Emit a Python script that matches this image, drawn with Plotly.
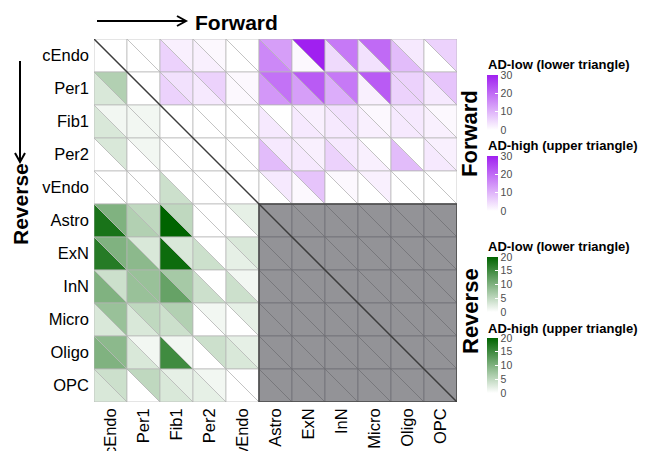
import plotly.graph_objects as go
from plotly.colors import sample_colorscale

cell_types = ["cEndo", "Per1", "Fib1", "Per2", "vEndo",
              "Astro", "ExN", "InN", "Micro", "Oligo", "OPC"]
n_vascular = 5
forward_max = 30
reverse_max = 20
forward_ticks = [0, 10, 20, 30]
reverse_ticks = [0, 5, 10, 15, 20]

# AD-low values (lower-left triangle of each cell); None = not tested (grey block)
ad_low = [
    [0, 0, 6, 2, 0, 16, 1, 5, 4, 9, 0],
    [3, 0, 6, 3, 1, 14, 13, 11, 2, 6, 3],
    [3, 1, 0, 0, 0, 3, 3, 3, 2, 3, 2],
    [0, 0, 0, 0, 0, 9, 3, 6, 2, 9, 3],
    [0, 0, 4, 0, 0, 0, 1, 0, 0, 0, 0],
    [18, 6, 20, 0, 0, None, None, None, None, None, None],
    [17, 9, 19, 4, 2, None, None, None, None, None, None],
    [10, 8, 12, 4, 4, None, None, None, None, None, None],
    [3, 3, 4, 0, 0, None, None, None, None, None, None],
    [10, 3, 15, 0, 3, None, None, None, None, None, None],
    [3, 0, 3, 2, 0, None, None, None, None, None, None],
]
# AD-high values (upper-right triangle of each cell)
ad_high = [
    [0, 0, 2, 1, 0, 13, 30, 18, 20, 3, 6],
    [6, 0, 4, 6, 1, 19, 22, 18, 22, 6, 8],
    [1, 1, 0, 0, 0, 0, 2, 4, 1, 3, 1],
    [3, 1, 0, 0, 0, 3, 2, 3, 0, 0, 2],
    [0, 0, 0, 0, 0, 3, 8, 1, 2, 0, 0],
    [10, 5, 5, 0, 2, None, None, None, None, None, None],
    [10, 3, 3, 0, 3, None, None, None, None, None, None],
    [4, 8, 7, 0, 1, None, None, None, None, None, None],
    [8, 5, 6, 1, 2, None, None, None, None, None, None],
    [9, 1, 1, 4, 2, None, None, None, None, None, None],
    [4, 5, 2, 1, 0, None, None, None, None, None, None],
]

purple_scale = [[0, "#FFFFFF"], [1, "#A020F0"]]
green_scale = [[0, "#FFFFFF"], [1, "#006400"]]
grey_fill = "#939397"

# page offset of the plotly div (default body margin)
OFF = 8
W, H = 649 - OFF, 451 - OFF
# plot area in screen pixels
L, R, T, B = 94, 457, 39, 402

fig = go.Figure()
n = len(cell_types)


def tri_color(v, r, c):
    if v is None:
        return grey_fill
    if c > r:
        return sample_colorscale(purple_scale, [min(v, forward_max) / forward_max])[0]
    if c < r:
        return sample_colorscale(green_scale, [min(v, reverse_max) / reverse_max])[0]
    return "#FFFFFF"


for r in range(n):
    for c in range(n):
        grey = ad_low[r][c] is None
        edge = "#6E6E72" if grey else "#B4B4B4"
        # lower-left triangle (AD-low)
        fig.add_trace(go.Scatter(
            x=[c, c, c + 1, c], y=[r, r + 1, r + 1, r],
            mode="lines", fill="toself",
            fillcolor=tri_color(ad_low[r][c], r, c),
            line=dict(color=edge, width=0.7),
            hoverinfo="skip", showlegend=False))
        # upper-right triangle (AD-high)
        fig.add_trace(go.Scatter(
            x=[c, c + 1, c + 1, c], y=[r, r, r + 1, r],
            mode="lines", fill="toself",
            fillcolor=tri_color(ad_high[r][c], r, c),
            line=dict(color=edge, width=0.7),
            hoverinfo="skip", showlegend=False))

# grey block outline
fig.add_trace(go.Scatter(
    x=[n_vascular, n, n, n_vascular, n_vascular],
    y=[n_vascular, n_vascular, n, n, n_vascular],
    mode="lines", line=dict(color="#4a4a4a", width=1.5),
    hoverinfo="skip", showlegend=False))
# main diagonal
fig.add_trace(go.Scatter(
    x=[0, n], y=[0, n], mode="lines",
    line=dict(color="#3c3c3c", width=1.5),
    hoverinfo="skip", showlegend=False))


def px(xp):
    return (xp - L) / (R - L)


def py(yp):
    return (B - yp) / (B - T)


# colour bars
cb_specs = [
    (purple_scale, forward_max, forward_ticks, 75),
    (purple_scale, forward_max, forward_ticks, 156),
    (green_scale, reverse_max, reverse_ticks, 257),
    (green_scale, reverse_max, reverse_ticks, 338),
]
for scale, vmax, ticks, ytop in cb_specs:
    fig.add_trace(go.Scatter(
        x=[0.5], y=[0.5], mode="markers",
        marker=dict(size=0.1, opacity=0, color=[0], cmin=0, cmax=vmax,
                    colorscale=scale, showscale=True,
                    colorbar=dict(
                        x=px(487), xanchor="left",
                        y=py(ytop), yanchor="top",
                        len=55, lenmode="pixels",
                        thickness=11, thicknessmode="pixels",
                        xpad=0, ypad=0, outlinewidth=0,
                        tickvals=ticks, ticks="inside", ticklen=3,
                        tickcolor="white",
                        tickfont=dict(size=10.5, color="#4d4d4d",
                                      family="Liberation Sans, Arial"))),
        hoverinfo="skip", showlegend=False))


bold = dict(family="Liberation Sans, Arial", color="black")
annotations = []
for text, ycen in [("AD-low (lower triangle)", 64), ("AD-high (upper triangle)", 145),
                   ("AD-low (lower triangle)", 246), ("AD-high (upper triangle)", 328)]:
    annotations.append(dict(text="<b>%s</b>" % text, x=px(486), y=py(ycen),
                            xref="paper", yref="paper", xanchor="left", yanchor="middle",
                            showarrow=False, font=dict(size=13, **bold)))
for text, ycen in [("Forward", 134), ("Reverse", 311)]:
    annotations.append(dict(text="<b>%s</b>" % text, x=px(470), y=py(ycen),
                            xref="paper", yref="paper", xanchor="center", yanchor="middle",
                            textangle=-90, showarrow=False, font=dict(size=22, **bold)))
annotations.append(dict(text="<b>Forward</b>", x=px(193), y=py(22),
                        xref="paper", yref="paper", xanchor="left", yanchor="middle",
                        showarrow=False, font=dict(size=21, **bold)))
annotations.append(dict(text="<b>Reverse</b>", x=px(20), y=py(204),
                        xref="paper", yref="paper", xanchor="center", yanchor="middle",
                        textangle=-90, showarrow=False, font=dict(size=21, **bold)))

# direction arrows (decorations, drawn as paper-referenced shapes)
arrow_line = dict(color="black", width=2)
shapes = [
    dict(type="line", xref="paper", yref="paper",
         x0=px(97), y0=py(21), x1=px(185), y1=py(21), line=arrow_line),
    dict(type="path", xref="paper", yref="paper", line=arrow_line,
         path="M %f,%f L %f,%f L %f,%f" % (px(177), py(16), px(186), py(21), px(177), py(26))),
    dict(type="line", xref="paper", yref="paper",
         x0=px(20), y0=py(61), x1=px(20), y1=py(161), line=arrow_line),
    dict(type="path", xref="paper", yref="paper", line=arrow_line,
         path="M %f,%f L %f,%f L %f,%f" % (px(15), py(153), px(20), py(162), px(25), py(153))),
]

centers = [i + 0.5 for i in range(n)]
fig.update_layout(
    width=W, height=H,
    margin=dict(l=L - OFF, r=W - (R - OFF), t=T - OFF, b=H - (B - OFF), autoexpand=False),
    paper_bgcolor="white", plot_bgcolor="white",
    font=dict(family="Liberation Sans, Arial", color="black"),
    annotations=annotations,
    shapes=shapes,
    xaxis=dict(range=[0, n], tickvals=centers, ticktext=cell_types, tickangle=-90,
               showgrid=False, zeroline=False, ticks="", showline=False, automargin=False,
               ticklabelstandoff=2,
               tickfont=dict(size=16.5, color="black"), fixedrange=True),
    yaxis=dict(range=[n, 0], tickvals=centers, ticktext=cell_types, automargin=False,
               showgrid=False, zeroline=False, ticks="", showline=False,
               ticklabelstandoff=4,
               tickfont=dict(size=16.5, color="black"), fixedrange=True),
)

fig.write_html("out.html")
